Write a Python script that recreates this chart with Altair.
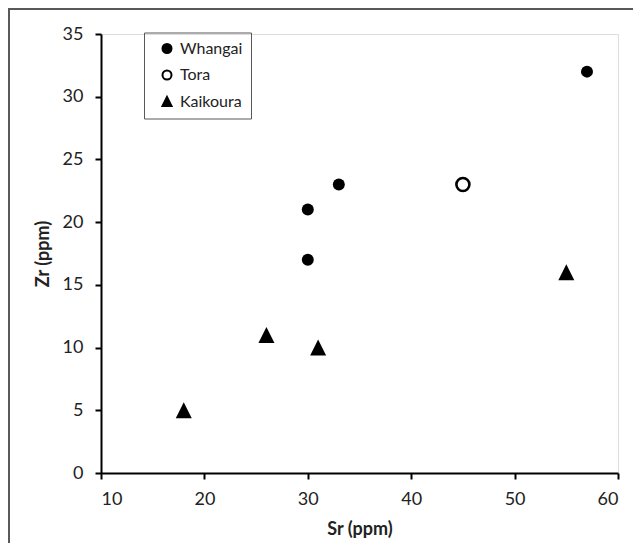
import altair as alt
import pandas as pd

# Data
groups = ["Whangai", "Whangai", "Whangai", "Whangai",
          "Tora",
          "Kaikoura", "Kaikoura", "Kaikoura", "Kaikoura"]
sr_ppm = [30, 30, 33, 57, 45, 18, 26, 31, 55]
zr_ppm = [21, 17, 23, 32, 23, 5, 11, 10, 16]

group_order = ["Whangai", "Tora", "Kaikoura"]
x_ticks = [10, 20, 30, 40, 50, 60]
y_ticks = [0, 5, 10, 15, 20, 25, 30, 35]

df = pd.DataFrame({"Group": groups, "Sr": sr_ppm, "Zr": zr_ppm})

FONT = "Lato"
TRI = "M0,-1L-1,1L1,1Z"

legend_def = alt.Legend(title=None, orient="none", legendX=43, legendY=-1.5,
                        labelFont=FONT, labelFontSize=16, labelColor="#222",
                        symbolSize=81, symbolStrokeWidth=2,
                        symbolStrokeColor="black", symbolOffset=7,
                        rowPadding=8.5, padding=8, labelOffset=5,
                        strokeColor="#595959")

points = alt.Chart(df).mark_point(filled=False, opacity=1).encode(
    x=alt.X("Sr:Q", title="Sr (ppm)",
            scale=alt.Scale(domain=[10, 60], nice=False, zero=False),
            axis=alt.Axis(values=x_ticks, grid=False, domainColor="black", domainWidth=2,
                          tickColor="black", tickWidth=2, tickSize=6,
                          labelFont=FONT, labelFontSize=18, labelColor="#222",
                          labelPadding=11, titleFont=FONT, titleFontSize=18,
                          titleFontWeight="bold", titleColor="#222", titlePadding=12)),
    y=alt.Y("Zr:Q", title="Zr (ppm)",
            scale=alt.Scale(domain=[0, 35], nice=False),
            axis=alt.Axis(values=y_ticks, grid=False, domainColor="black", domainWidth=2,
                          tickColor="black", tickWidth=2, tickSize=6,
                          labelFont=FONT, labelFontSize=18, labelColor="#222",
                          labelPadding=12, titleFont=FONT, titleFontSize=18,
                          titleFontWeight="bold", titleColor="#222", titlePadding=10)),
    shape=alt.Shape("Group:N", scale=alt.Scale(domain=group_order,
                                               range=["circle", "circle", TRI]),
                    legend=legend_def),
    fill=alt.Fill("Group:N", scale=alt.Scale(domain=group_order,
                                             range=["black", "white", "black"]),
                  legend=legend_def),
    stroke=alt.Stroke("Group:N", scale=alt.Scale(domain=group_order,
                                                 range=["black", "black", "black"]),
                      legend=legend_def),
    size=alt.Size("Group:N", scale=alt.Scale(type="ordinal",
                                             domain=["Tora", "Kaikoura", "Whangai"],
                                             range=[169, 256, 144]),
                  legend=None),
    strokeWidth=alt.StrokeWidth("Group:N",
                                scale=alt.Scale(type="ordinal",
                                                domain=["Kaikoura", "Whangai", "Tora"],
                                                range=[0, 0, 2.6]),
                                legend=None),
)

frame_top = alt.Chart(df).mark_rule(color="#595959", strokeWidth=1.5).encode(
    x=alt.value(-93), x2=alt.value(560), y=alt.value(-25.2))
frame_left = alt.Chart(df).mark_rule(color="#595959", strokeWidth=1.8).encode(
    x=alt.value(-92.2), y=alt.value(-26), y2=alt.value(520))

chart = alt.layer(frame_top, frame_left, points).properties(
    width=517, height=439,
    autosize=alt.AutoSizeParams(type="none"),
    padding={"left": 93, "top": 26, "right": 15, "bottom": 70},
).configure_view(stroke=None).configure(background="white")

chart.save("out.html", embed_options={"renderer": "svg", "actions": False})
